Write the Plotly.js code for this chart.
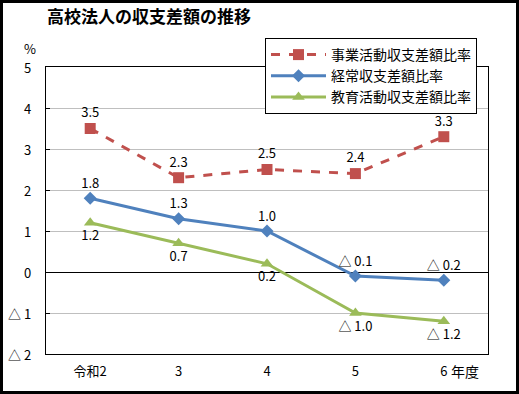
<!DOCTYPE html>
<html><head><meta charset="utf-8">
<script src="https://cdn.plot.ly/plotly-3.0.1.min.js"></script>
<style>
html,body{margin:0;padding:0;background:#fff;}
#wrap{position:relative;width:519px;height:394px;}
#chart{position:absolute;left:0;top:0;width:519px;height:394px;}
#frame{position:absolute;left:0;top:0;width:519px;height:394px;box-sizing:border-box;border:3px solid #000;pointer-events:none;}
</style></head>
<body><div id="wrap"><div id="chart"></div><div id="frame"></div></div>
<script>
const categories = ["令和2", "3", "4", "5", "6"];
const jigyo = [3.5, 2.3, 2.5, 2.4, 3.3];
const keijo = [1.8, 1.3, 1.0, -0.1, -0.2];
const kyoiku = [1.2, 0.7, 0.2, -1.0, -1.2];
const seriesNames = ["事業活動収支差額比率", "経常収支差額比率", "教育活動収支差額比率"];
const yTickVals = [-2, -1, 0, 1, 2, 3, 4, 5];
const yTickText = ["△ 2", "△ 1", "0", "1", "2", "3", "4", "5"];

function fmt(v){ return v < 0 ? "△ " + Math.abs(v).toFixed(1) : v.toFixed(1); }
const FONT = "'Noto Sans CJK JP', 'Noto Sans', sans-serif";

const traces = [
  {x: categories, y: jigyo, name: seriesNames[0], type: 'scatter', mode: 'lines+markers+text',
   text: jigyo.map(fmt), textposition: 'top center', textfont: {size: 13, color: '#000'},
   line: {color: '#C0504D', width: 3, dash: 'dash'},
   marker: {symbol: 'square', size: 11, color: '#C0504D'}},
  {x: categories, y: keijo, name: seriesNames[1], type: 'scatter', mode: 'lines+markers+text',
   text: keijo.map(fmt), textposition: 'top center', textfont: {size: 13, color: '#000'},
   line: {color: '#4F81BD', width: 3},
   marker: {symbol: 'diamond', size: 10, color: '#4F81BD'}},
  {x: categories, y: kyoiku, name: seriesNames[2], type: 'scatter', mode: 'lines+markers+text',
   text: kyoiku.map(fmt), textposition: 'bottom center', textfont: {size: 13, color: '#000'},
   line: {color: '#9BBB59', width: 3},
   marker: {symbol: 'triangle-up', size: 11, color: '#9BBB59'}}
];

const yLabelAnns = yTickVals.map((v, i) => ({
  text: yTickText[i], xref: 'paper', yref: 'y', x: 0, y: v, xanchor: 'right', yanchor: 'middle',
  xshift: -13, showarrow: false, font: {size: 13}
}));

const layout = {
  width: 519, height: 394,
  margin: {l: 46, r: 31, t: 67, b: 40},
  paper_bgcolor: '#fff', plot_bgcolor: '#fff',
  font: {family: FONT, size: 13, color: '#000'},
  title: {text: '高校法人の収支差額の推移', font: {family: FONT, size: 17, weight: 'bold', color: '#000'},
          xref: 'container', yref: 'container', x: 47/519, xanchor: 'left', y: 1 - 17/394, yanchor: 'middle'},
  showlegend: true,
  legend: {x: (265-46)/442, y: 1 + 29/287, xanchor: 'left', yanchor: 'top',
           bgcolor: '#fff', bordercolor: '#000', borderwidth: 1,
           font: {family: FONT, size: 14, color: '#000'}, itemwidth: 55, tracegroupgap: 0},
  xaxis: {type: 'category', range: [-0.5, 4.5], showline: true, linecolor: '#000', linewidth: 1, mirror: true,
          showgrid: false, ticks: 'outside', ticklen: 5, tickcolor: 'rgba(0,0,0,0)', tickfont: {size: 13}, fixedrange: true},
  yaxis: {range: [-2, 5], tickvals: yTickVals, showticklabels: false, showline: true, linecolor: '#000', linewidth: 1,
          mirror: true, showgrid: true, gridcolor: '#BFBFBF', gridwidth: 1, zeroline: true, zerolinecolor: '#000',
          zerolinewidth: 1, ticks: 'inside', ticklen: 4, tickcolor: '#000', tickwidth: 1, fixedrange: true},
  annotations: yLabelAnns.concat([
    {text: '%', xref: 'paper', yref: 'paper', x: 0, y: 1, xanchor: 'center', yanchor: 'middle', xshift: -16, yshift: 19, showarrow: false, font: {size: 13}},
    {text: '年度', xref: 'paper', yref: 'paper', x: 1, y: 0, xanchor: 'center', yanchor: 'middle', xshift: -23, yshift: -17, showarrow: false, font: {size: 14}}
  ])
};
Plotly.newPlot('chart', traces, layout, {staticPlot: true, displayModeBar: false});
</script></body></html>
